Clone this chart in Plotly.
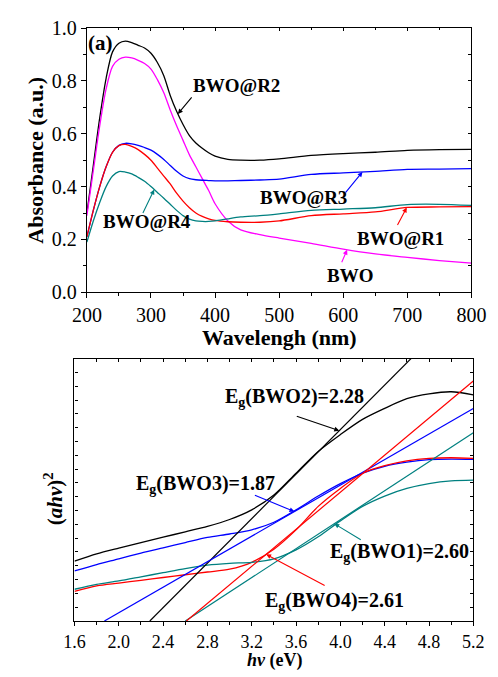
import numpy as np
import plotly.graph_objects as go

# ---------------- (a) UV-vis absorbance spectra ----------------
wavelength = [200, 210, 220, 230, 240, 250, 260, 270, 280, 290, 300, 310, 320, 330, 340,
              350, 360, 370, 380, 390, 400, 420, 440, 470, 500, 550, 600, 650, 700, 750, 800]

abs_bwo_r2 = [0.30, 0.48, 0.66, 0.81, 0.91, 0.943, 0.951, 0.945, 0.935, 0.925, 0.905, 0.87, 0.82, 0.745, 0.685,
              0.635, 0.593, 0.565, 0.545, 0.528, 0.515, 0.503, 0.500, 0.500, 0.505, 0.518, 0.525, 0.530, 0.537, 0.540, 0.541]
abs_bwo = [0.29, 0.46, 0.63, 0.77, 0.855, 0.882, 0.89, 0.887, 0.878, 0.866, 0.845, 0.805, 0.755, 0.69, 0.63,
           0.575, 0.52, 0.475, 0.43, 0.385, 0.335, 0.27, 0.236, 0.218, 0.205, 0.185, 0.163, 0.145, 0.132, 0.12, 0.11]
abs_bwo_r3 = [0.21, 0.31, 0.40, 0.475, 0.53, 0.556, 0.564, 0.562, 0.556, 0.548, 0.538, 0.522, 0.503, 0.48, 0.458,
              0.44, 0.43, 0.426, 0.424, 0.423, 0.422, 0.422, 0.423, 0.425, 0.428, 0.446, 0.452, 0.458, 0.465, 0.466, 0.468]
abs_bwo_r1 = [0.21, 0.31, 0.40, 0.475, 0.53, 0.555, 0.56, 0.552, 0.54, 0.522, 0.50, 0.47, 0.44, 0.41, 0.375,
              0.345, 0.32, 0.30, 0.287, 0.278, 0.272, 0.267, 0.265, 0.265, 0.27, 0.29, 0.297, 0.304, 0.321, 0.323, 0.324]
abs_bwo_r4 = [0.19, 0.27, 0.34, 0.40, 0.44, 0.457, 0.455, 0.448, 0.435, 0.42, 0.40, 0.378, 0.356, 0.333, 0.31,
              0.29, 0.277, 0.27, 0.268, 0.268, 0.27, 0.278, 0.285, 0.29, 0.297, 0.31, 0.315, 0.32, 0.332, 0.333, 0.329]

# ---------------- (b) Tauc plots ----------------
photon_energy = [1.6, 1.8, 2.0, 2.2, 2.4, 2.6, 2.8, 3.0, 3.2, 3.4, 3.6, 3.8, 4.0, 4.2, 4.4, 4.6, 4.8, 5.0, 5.2]

tauc_bwo1 = [2.30, 2.65, 2.9, 3.2, 3.5, 3.8, 4.05, 4.18, 4.25, 4.5, 5.15, 6.1, 7.25, 8.3, 9.05, 9.6, 9.95, 10.15, 10.2]
tauc_bwo2 = [4.33, 4.86, 5.28, 5.68, 6.07, 6.46, 6.85, 7.35, 8.05, 9.12, 10.7, 12.28, 13.5, 14.6, 15.4, 16.1, 16.45, 16.6, 16.38]
tauc_bwo3 = [3.63, 4.09, 4.5, 4.92, 5.3, 5.68, 6.05, 6.3, 6.6, 7.15, 8.05, 9.05, 9.95, 10.7, 11.2, 11.5, 11.68, 11.72, 11.7]
tauc_bwo4 = [2.15, 2.55, 2.75, 2.95, 3.15, 3.35, 3.55, 3.75, 4.25, 5.2, 6.6, 8.3, 9.6, 10.7, 11.25, 11.6, 11.78, 11.82, 11.78]

# band-gap intercepts and slopes of the linear fits
gap_names = ["BWO1", "BWO2", "BWO3", "BWO4"]
band_gaps = [2.60, 2.28, 1.87, 2.61]
fit_slopes = [5.24, 8.06, 4.62, 6.71]

BLACK, MAGENTA, BLUE, RED, TEAL = "#000000", "#FF00FF", "#0000FF", "#FF0000", "#008080"
FONT = "Liberation Serif"
W, H = 498, 677


def px_x(px):
    return px / W


def px_y(py):
    return 1 - py / H


fig = go.Figure()

# spectra
for vals, col in [(abs_bwo_r2, BLACK), (abs_bwo, MAGENTA), (abs_bwo_r3, BLUE),
                  (abs_bwo_r1, RED), (abs_bwo_r4, TEAL)]:
    fig.add_trace(go.Scatter(x=wavelength, y=vals, mode="lines", xaxis="x", yaxis="y",
                             line=dict(color=col, width=1.3, shape="spline", smoothing=0.8),
                             showlegend=False, hoverinfo="skip"))

# Tauc curves
tauc = {"BWO1": (tauc_bwo1, TEAL), "BWO2": (tauc_bwo2, BLACK),
        "BWO3": (tauc_bwo3, BLUE), "BWO4": (tauc_bwo4, RED)}
for name in ["BWO2", "BWO3", "BWO4", "BWO1"]:
    vals, col = tauc[name]
    fig.add_trace(go.Scatter(x=photon_energy, y=vals, mode="lines", xaxis="x2", yaxis="y2",
                             line=dict(color=col, width=1.3, shape="spline", smoothing=0.8),
                             showlegend=False, hoverinfo="skip"))

# linear extrapolations to the energy axis
x_end = photon_energy[-1]
for name, eg, k in zip(gap_names, band_gaps, fit_slopes):
    col = tauc[name][1]
    fig.add_trace(go.Scatter(x=[eg, x_end], y=[0, k * (x_end - eg)], mode="lines",
                             xaxis="x2", yaxis="y2", line=dict(color=col, width=1.2),
                             showlegend=False, hoverinfo="skip"))

# invisible carriers for the mirrored tick axes
for xa, ya in [("x3", "y"), ("x", "y3"), ("x4", "y2"), ("x2", "y4")]:
    fig.add_trace(go.Scatter(x=[None], y=[None], xaxis=xa, yaxis=ya, showlegend=False,
                             hoverinfo="skip", mode="lines"))

top_xd = [px_x(76.5), px_x(485.7)]
top_yd = [px_y(290.7), px_y(17.7)]
bot_xd = [px_x(63.3), px_x(487.7)]
bot_yd = [px_y(630.5), px_y(359.3)]

axis_common = dict(showline=True, linecolor="black", linewidth=1.3, showgrid=False,
                   zeroline=False, tickcolor="black", tickwidth=1.1)
top_font = dict(family=FONT, size=20, color="black")
bot_font = dict(family=FONT, size=18, color="black")

fig.update_layout(
    width=W, height=H, margin=dict(l=0, r=0, t=0, b=0),
    paper_bgcolor="white", plot_bgcolor="white",
    font=dict(family=FONT, color="black"),
    xaxis=dict(domain=top_xd, anchor="y", range=[200, 800], tickmode="array",
               tickvals=list(range(200, 801, 100)), ticks="outside", ticklen=5,
               ticklabeloverflow="allow", tickfont=top_font,
               minor=dict(dtick=50, ticks="outside", ticklen=3, tickcolor="black"), **axis_common),
    yaxis=dict(domain=top_yd, anchor="x", range=[0, 1.0], dtick=0.2, tickformat=".1f",
               ticks="outside", ticklen=5, ticklabeloverflow="allow", tickfont=top_font,
               minor=dict(dtick=0.1, ticks="outside", ticklen=3, tickcolor="black"), **axis_common),
    xaxis3=dict(overlaying="x", anchor="y", side="top", range=[200, 800], dtick=100,
                ticks="inside", ticklen=3, showticklabels=False,
                minor=dict(dtick=50, ticks="inside", ticklen=2, tickcolor="black"), **axis_common),
    yaxis3=dict(overlaying="y", anchor="x", side="right", range=[0, 1.0], dtick=0.1,
                ticks="inside", ticklen=3, showticklabels=False, **axis_common),
    xaxis2=dict(domain=bot_xd, anchor="y2", range=[1.6, 5.2], tickmode="array",
                tickvals=[round(1.6 + 0.4 * i, 1) for i in range(10)], tickformat=".1f",
                ticks="outside", ticklen=4, ticklabeloverflow="allow", tickfont=bot_font,
                minor=dict(dtick=0.2, ticks="outside", ticklen=3, tickcolor="black"), **axis_common),
    yaxis2=dict(domain=bot_yd, anchor="x2", range=[0, 19], dtick=1, ticks="inside",
                ticklen=3, showticklabels=False, **axis_common),
    xaxis4=dict(overlaying="x2", anchor="y2", side="top", range=[1.6, 5.2], dtick=0.2,
                ticks="inside", ticklen=3, showticklabels=False, **axis_common),
    yaxis4=dict(overlaying="y2", anchor="x2", side="right", range=[0, 19], dtick=1,
                ticks="inside", ticklen=3, showticklabels=False, **axis_common),
)

annotations = []


def label(text, x, y, xref, yref, size, angle=0):
    annotations.append(dict(text=text, x=x, y=y, xref=xref, yref=yref, showarrow=False,
                            xanchor="center", yanchor="middle", textangle=angle,
                            font=dict(family=FONT, size=size, color="black")))


def arrow(x, y, ax, ay, xref, yref, col):
    annotations.append(dict(text="", x=x, y=y, xref=xref, yref=yref, ax=ax, ay=ay,
                            showarrow=True, arrowhead=2, arrowsize=0.9, arrowwidth=1.1,
                            arrowcolor=col, standoff=0))


# axis titles
label("<b>Wavelengh (nm)</b>", px_x(281), px_y(337), "paper", "paper", 22)
label("<b>Absorbance (a.u.)</b>", px_x(22), px_y(154), "paper", "paper", 22, -90)
label("<b><i>hv</i> (eV)</b>", px_x(276), px_y(671), "paper", "paper", 18)
label("<b>(<i>ahv</i>)<sup>2</sup></b>", px_x(41), px_y(504), "paper", "paper", 21, -90)

# panel (a) labels and pointers
label("<b>(a)</b>", 220.5, 0.944, "x", "y", 21)
top_labels = [
    ("BWO@R2", 434, 0.783, abs_bwo_r2, 342, 15, -18, BLACK),
    ("BWO@R3", 538, 0.358, abs_bwo_r3, 630, -18, 22, BLUE),
    ("BWO@R1", 690, 0.204, abs_bwo_r1, 699, -10, 19, RED),
    ("BWO", 610.7, 0.065, abs_bwo, 606, -6, 14, MAGENTA),
    ("BWO@R4", 293, 0.266, abs_bwo_r4, 305, -12, 25, TEAL),
]
for text, lx, ly, vals, tx, ax, ay, col in top_labels:
    label(f"<b>{text}</b>", lx, ly, "x", "y", 19)
    arrow(tx, float(np.interp(tx, wavelength, vals)), ax, ay, "x", "y", col)

# Tauc labels and pointers to the fitted lines
bottom_labels = {
    "BWO2": (3.586, 16.15, 3.99, -44, -15),
    "BWO3": (2.78, 9.85, 3.585, -41, -17),
    "BWO1": (4.534, 4.94, 3.945, 28, 17),
    "BWO4": (3.947, 1.44, 3.33, 60, 32),
}
for name, eg, k in zip(gap_names, band_gaps, fit_slopes):
    lx, ly, tx, ax, ay = bottom_labels[name]
    label(f"<b>E<sub>g</sub>({name})={eg:.2f}</b>", lx, ly, "x2", "y2", 20)
    arrow(tx, k * (tx - eg), ax, ay, "x2", "y2", tauc[name][1])

fig.update_layout(annotations=annotations)
fig.write_html("out.html")
